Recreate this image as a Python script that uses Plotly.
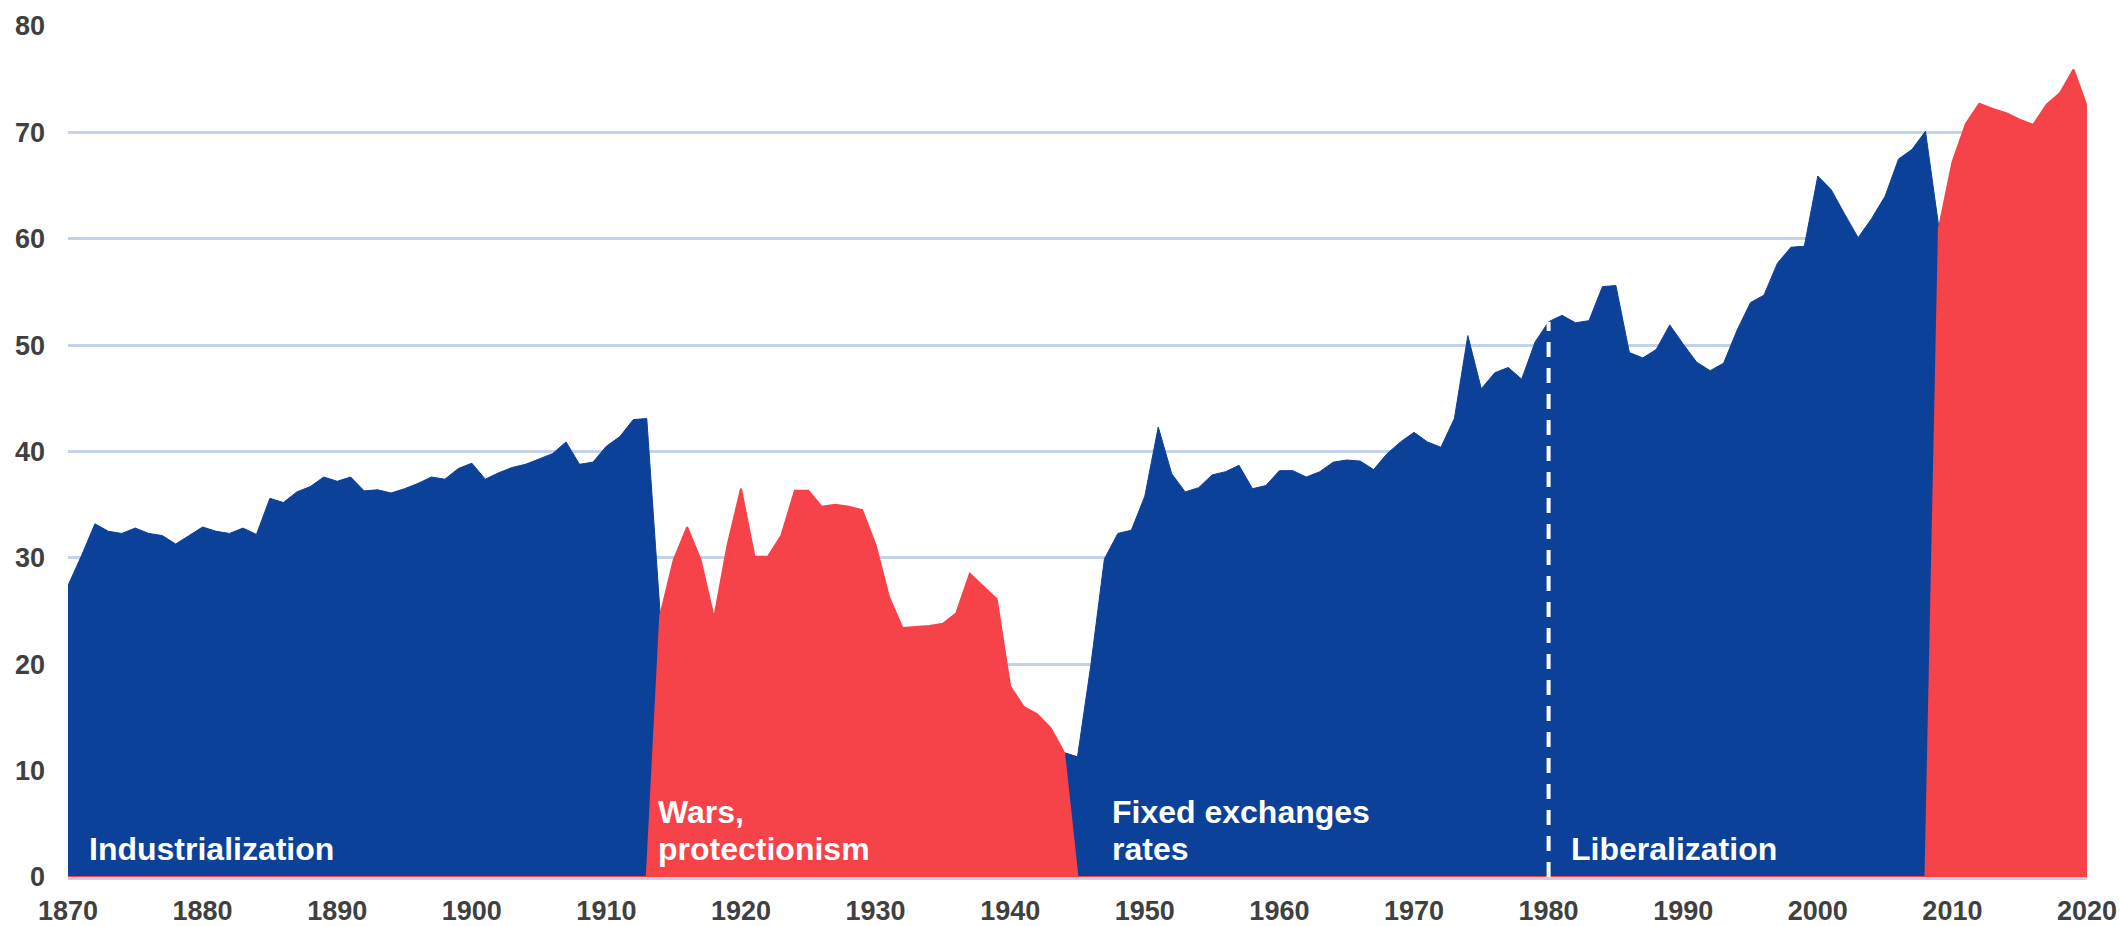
import plotly.graph_objects as go

# ---- data -------------------------------------------------------------
years = list(range(1870, 2021))

# trade openness index, one value per year (1870 ... 2020)
openness_1870s = [27.4, 30.2, 33.2, 32.5, 32.3, 32.8, 32.3, 32.1, 31.3, 32.1]
openness_1880s = [32.9, 32.5, 32.3, 32.8, 32.2, 35.6, 35.2, 36.2, 36.7, 37.6]
openness_1890s = [37.2, 37.6, 36.3, 36.4, 36.1, 36.5, 37.0, 37.6, 37.4, 38.4]
openness_1900s = [38.9, 37.4, 38.0, 38.5, 38.8, 39.3, 39.8, 40.9, 38.8, 39.0]
openness_1910s = [40.5, 41.4, 43.0, 43.1, 24.6, 29.8, 32.9, 29.8, 24.3, 31.2]
openness_1920s = [36.5, 30.1, 30.1, 32.1, 36.3, 36.3, 34.8, 35.0, 34.8, 34.5]
openness_1930s = [31.2, 26.3, 23.4, 23.5, 23.6, 23.8, 24.8, 28.5, 27.3, 26.1]
openness_1940s = [17.9, 16.0, 15.3, 14.0, 11.7, 11.3, 20.0, 29.9, 32.3, 32.6]
openness_1950s = [35.8, 42.3, 37.9, 36.2, 36.6, 37.8, 38.1, 38.7, 36.5, 36.8]
openness_1960s = [38.2, 38.2, 37.6, 38.1, 39.0, 39.2, 39.1, 38.3, 39.8, 40.9]
openness_1970s = [41.8, 40.9, 40.4, 43.1, 50.9, 45.9, 47.4, 47.9, 46.8, 50.3]
openness_1980s = [52.2, 52.8, 52.1, 52.3, 55.5, 55.6, 49.3, 48.8, 49.6, 51.9]
openness_1990s = [50.1, 48.4, 47.6, 48.3, 51.4, 54.0, 54.7, 57.7, 59.2, 59.3]
openness_2000s = [65.9, 64.6, 62.3, 60.1, 61.9, 64.0, 67.5, 68.4, 70.1, 61.0]
openness_2010s = [67.2, 70.8, 72.7, 72.2, 71.8, 71.2, 70.7, 72.6, 73.7, 75.9]
openness_2020s = [72.4]

openness = (openness_1870s + openness_1880s + openness_1890s + openness_1900s
            + openness_1910s + openness_1920s + openness_1930s + openness_1940s
            + openness_1950s + openness_1960s + openness_1970s + openness_1980s
            + openness_1990s + openness_2000s + openness_2010s + openness_2020s)

# regimes (boundary years are shared by both colours)
blue_periods = [(1870, 1914), (1944, 2009)]
red_periods = [(1914, 1944), (2009, 2020)]

period_labels = [
    ("Industrialization", 1871.4, 2.6),
    ("Wars,", 1913.7, 6.1),
    ("protectionism", 1913.7, 2.6),
    ("Fixed exchanges", 1947.4, 6.1),
    ("rates", 1947.4, 2.6),
    ("Liberalization", 1981.5, 2.6),
]
marker_year = 1980

x_ticks = list(range(1870, 2021, 10))
y_ticks = list(range(0, 81, 10))

# ---- styling ----------------------------------------------------------
BLUE = "#0b4199"
RED = "#f64249"
GRID = "#c3d1ea"
FONT = "Liberation Sans, Arial, sans-serif"


def in_periods(year, periods):
    return any(a <= year <= b for a, b in periods)


blue_vals = [v if in_periods(y, blue_periods) else 0 for y, v in zip(years, openness)]
red_vals = [v if in_periods(y, red_periods) else 0 for y, v in zip(years, openness)]

fig = go.Figure()
fig.add_trace(go.Scatter(
    x=years, y=blue_vals, mode="lines", fill="tozeroy",
    fillcolor=BLUE, line=dict(color=BLUE, width=1),
    hoverinfo="skip", showlegend=False))
fig.add_trace(go.Scatter(
    x=years, y=red_vals, mode="lines", fill="tozeroy",
    fillcolor=RED, line=dict(color=RED, width=2),
    hoverinfo="skip", showlegend=False))

# dashed marker at the start of liberalization
fig.add_trace(go.Scatter(
    x=[marker_year, marker_year],
    y=[0, openness[years.index(marker_year)]],
    mode="lines", line=dict(color="white", width=4, dash="15px,11px"),
    hoverinfo="skip", showlegend=False))

for text, xv, yv in period_labels:
    fig.add_annotation(
        x=xv, y=yv, xref="x", yref="y", text=text, showarrow=False,
        xanchor="left", yanchor="middle",
        font=dict(family=FONT, size=32, color="white", weight="bold"))

fig.update_layout(
    width=2120, height=926,
    margin=dict(l=68, r=33, t=26, b=49, autoexpand=False),
    paper_bgcolor="white", plot_bgcolor="white",
    xaxis=dict(
        range=[1870, 2020], tickvals=x_ticks, ticktext=[str(t) for t in x_ticks],
        showgrid=False, zeroline=False, showline=True, linecolor=GRID, linewidth=3,
        ticks="", ticklabelstandoff=8, automargin=False,
        tickfont=dict(family=FONT, size=27, color="#404040", weight="bold")),
    yaxis=dict(
        range=[0, 80], tickvals=y_ticks, ticktext=[str(t) for t in y_ticks],
        showgrid=True, gridcolor=GRID, gridwidth=3, zeroline=False,
        showline=False, ticks="", ticklabelstandoff=22, automargin=False,
        tickfont=dict(family=FONT, size=27, color="#404040", weight="bold")),
)

fig.write_html(
    "out.html",
    config={"displayModeBar": False},
    post_script="document.body.style.margin='0';document.body.style.overflow='hidden';",
)
